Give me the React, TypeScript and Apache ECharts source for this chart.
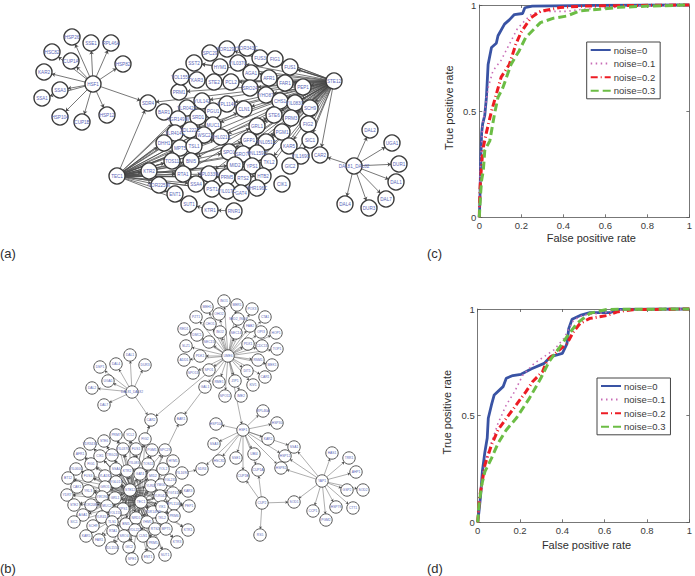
import React, { useEffect, useRef } from "react";
import * as echarts from "echarts";

type N = [string, number, number];

const nodesA: N[] = [
  ["HSP26", 72, 37], ["SSE1", 91, 43], ["RPL46A", 111, 43], ["HSP82", 123, 64], ["HSC82", 52, 52], ["CUP1A", 71, 61],
  ["KAR2", 44, 72], ["HSF1", 93, 84], ["SSA3", 60, 90], ["SSA1", 42, 98], ["HSP104", 60, 117], ["CUP1B", 82, 122],
  ["HSP12", 107, 115], ["SDR4", 148, 103], ["TEC1", 117, 176], ["KTR2", 149, 171], ["BAR1", 164, 112], ["PRM1", 179, 92],
  ["YOL155C", 181, 77], ["KAR3", 197, 80], ["SST2", 194, 63], ["SPC29", 210, 53], ["HYM1", 220, 67], ["STE2", 214, 82],
  ["YOR129C", 227, 49], ["YUL142", 202, 101], ["YLR042C", 187, 108], ["PGU1", 213, 111], ["YPL114C", 227, 104],
  ["YGR149W", 178, 119], ["SRD1", 198, 117], ["MUC1", 213, 125], ["YLR414C", 175, 133], ["YDL222C", 190, 130],
  ["WSC2", 204, 135], ["YHL021C", 221, 137], ["DHH1", 164, 143], ["MPT5", 180, 148], ["TSL1", 194, 146], ["SPO1", 229, 152],
  ["TOS11", 172, 161], ["BNI5", 191, 161], ["RTA1", 183, 174], ["YPL033W", 209, 174], ["PRM5", 227, 177],
  ["YOR225W", 159, 185], ["SSA4", 196, 184], ["PST1", 212, 189], ["YIL017C", 227, 191], ["ENT1", 175, 194], ["SUT1", 189, 204],
  ["KTR1", 210, 210], ["RNR1", 234, 211], ["YOR343C", 247, 48], ["FUS3", 260, 58], ["FIG1", 275, 59], ["FUS1", 290, 67],
  ["YIL037C", 238, 63], ["AGA1", 251, 73], ["AFR1", 269, 78], ["FAR1", 285, 83], ["PEP1", 303, 87], ["STE12", 334, 81],
  ["PCL2", 231, 82], ["SRO24", 250, 88], ["YHO87", 266, 95], ["CHS1", 280, 101], ["YIL083C", 295, 103], ["SCH9", 310, 108],
  ["CLN1", 244, 109], ["STE6", 274, 115], ["PRM3", 291, 118], ["FIG2", 308, 124], ["GRL1", 257, 126], ["PGM1", 282, 132],
  ["GFP1", 249, 140], ["YNL051C", 266, 142], ["KAR5", 289, 146], ["SIC1", 310, 140], ["CAR2", 320, 155], ["YIL169C", 301, 156],
  ["SRO77", 243, 154], ["YNL159C", 257, 153], ["TKL2", 269, 162], ["MID2", 235, 165], ["YPS1", 252, 166], ["GIC2", 290, 166],
  ["HTB2", 263, 176], ["RTS2", 243, 178], ["CIK1", 282, 184], ["GAT4", 241, 193], ["YHR196C", 257, 188],
  ["DAL81_DAL82", 354, 166], ["DAL2", 370, 130], ["UGA1", 392, 143], ["DUR1", 399, 164], ["DAL1", 396, 182],
  ["DAL7", 386, 199], ["DUR3", 369, 208], ["DAL4", 345, 204],
];
const hsfLeavesA = ["HSP26", "SSE1", "RPL46A", "HSP82", "HSC82", "CUP1A", "KAR2", "SSA3", "SSA1", "HSP104", "CUP1B", "HSP12", "SDR4"];
const dalLeavesA = ["DAL2", "UGA1", "DUR1", "DAL1", "DAL7", "DUR3", "DAL4", "CAR2"];
const tecTargetsA = [
  "SDR4", "KTR2", "YLR042C", "YGR149W", "SRD1", "MUC1", "YLR414C", "YDL222C", "WSC2", "YHL021C", "DHH1", "MPT5", "TSL1", "SPO1",
  "TOS11", "BNI5", "RTA1", "YPL033W", "PRM5", "YOR225W", "SSA4", "PST1", "YIL017C", "ENT1", "SUT1", "GFP1", "SRO77", "MID2",
  "YPS1", "RTS2", "HTB2", "GRL1", "YNL159C", "TKL2", "PGM1", "STE6", "CLN1", "YPL114C",
];
const steTargetsA = [
  "SDR4", "PRM1", "SST2", "KAR3", "STE2", "YOR129C", "YOR343C", "FUS3", "FIG1", "FUS1", "YIL037C", "AGA1", "AFR1", "FAR1", "PEP1",
  "PCL2", "SRO24", "YHO87", "CHS1", "YIL083C", "SCH9", "CLN1", "STE6", "PRM3", "FIG2", "GRL1", "PGM1", "GFP1", "YNL051C", "KAR5",
  "SIC1", "CAR2", "YIL169C", "SRO77", "YNL159C", "TKL2", "MID2", "YPS1", "GIC2", "HTB2", "RTS2", "SPO1", "MUC1", "YHL021C",
  "WSC2", "PGU1", "YPL114C", "YUL142", "SRD1", "TSL1", "BNI5", "YPL033W", "PRM5", "YDL222C", "RTA1",
];
const extraEdgesA: [string, string][] = [["HYM1", "SST2"], ["KTR1", "SUT1"], ["RNR1", "KTR1"], ["ENT1", "SUT1"], ["KTR2", "RTA1"]];

const nodesB: N[] = [
  ["PRM7", 116, 435], ["YCL2", 130, 435], ["YDR343C", 90, 444], ["STE6", 104, 441], ["FIG2", 145, 439], ["YIL037C", 123, 449],
  ["FUS1", 136, 449], ["PGM1", 152, 450], ["SPC29", 165, 450], ["AFR1", 80, 454], ["CIK1", 100, 456], ["TRG24", 112, 455],
  ["YIL083", 134, 463], ["TOS11", 148, 464], ["HYM1", 173, 461], ["FIG1", 91, 464], ["YIL060C", 76, 469], ["SSA4", 116, 469],
  ["KTR2", 127, 471], ["GAT4", 140, 474], ["MID2", 153, 476], ["YOL2", 163, 469], ["BT12", 68, 478], ["FUS3", 88, 476],
  ["YLA182", 105, 476], ["YGL017", 116, 482], ["YLR01", 151, 486], ["YMG1", 161, 485], ["YGL231", 170, 480], ["YIL169C", 182, 473],
  ["SDR4", 202, 469], ["STE12", 130, 490], ["GRO1", 105, 487], ["YKL3", 88, 491], ["CAK1", 77, 487], ["YDR7", 67, 495],
  ["KAR3", 188, 491], ["YGT41", 173, 493], ["TEC1", 141, 502], ["YLR042", 160, 496], ["YPL114C", 174, 504], ["PEP1", 189, 506],
  ["STE2", 74, 505], ["YOR208C", 91, 505], ["YIR190", 102, 497], ["GRL1", 115, 498], ["MUC2", 107, 506], ["AGA1", 83, 515],
  ["YLR414", 102, 517], ["YPS1", 123, 509], ["YDR149W", 153, 512], ["YOL155", 115, 513], ["YIK1", 162, 507], ["PRM6", 174, 516],
  ["TKL2", 162, 518], ["SIC1", 74, 522], ["TLS1", 112, 522], ["BNI5", 126, 524], ["NRD1", 136, 518], ["SCH9", 93, 526],
  ["YHM1", 147, 522], ["RTS2", 155, 529], ["MPT5", 166, 529], ["RTA1", 113, 531], ["YDL222", 135, 530], ["KTR1", 188, 530],
  ["KAR5", 86, 536], ["FAR1", 99, 540], ["SRO4", 124, 536], ["CLN1", 143, 536], ["KTR3", 177, 542], ["PRM5", 153, 543],
  ["YDL155C", 112, 548], ["GIC2", 129, 547], ["SUT1", 165, 555], ["SPE1", 132, 559], ["ENT1", 148, 557], ["CAR2", 151, 420],
  ["BAR1", 181, 419], ["DAL81_DAL82", 132, 392], ["DAL1", 130, 355], ["DAL4", 116, 364], ["DUR3", 145, 365], ["DSP1", 100, 367],
  ["UGA1", 108, 381], ["DAL2", 92, 388], ["DAL7", 104, 405], ["INO1", 224, 301], ["MEH1", 207, 307], ["MER1", 237, 305],
  ["POX3", 252, 309], ["CTA1", 265, 317], ["OHO2", 219, 314], ["SED2_INO4", 238, 319], ["CHO1", 210, 324], ["FAB2", 250, 326],
  ["OPI3", 261, 332], ["HOP1", 276, 333], ["INO2", 220, 332], ["SEC14", 236, 333], ["PZT1", 196, 317], ["RED1", 184, 329],
  ["DMC1", 197, 335], ["SEC15", 209, 342], ["SLZ1", 186, 346], ["PDX1", 248, 344], ["CDC13", 262, 346], ["TOP1", 277, 349],
  ["ADD1", 184, 360], ["PDK1", 200, 356], ["UME6", 228, 356], ["RSM1", 258, 360], ["MEK1", 272, 365], ["SPO1", 209, 370],
  ["DIT1", 247, 371], ["CAR1", 265, 377], ["RME1", 219, 382], ["ZIP1", 235, 381], ["KIV1", 253, 385], ["SPO13", 193, 373],
  ["GAL1", 205, 387], ["SPO11", 225, 396], ["IME2", 241, 396], ["HSF1", 243, 430], ["RPL46A", 263, 411], ["HSP30", 277, 423],
  ["HSP104", 216, 424], ["SSA3", 214, 444], ["KAR2", 268, 439], ["SSE1", 236, 458], ["HSC82", 219, 461], ["UBI4", 254, 454],
  ["CUP1A", 258, 470], ["CUP1B", 243, 476], ["SSA1", 294, 447], ["HSP12", 285, 456], ["HSP82", 281, 468], ["YAP1", 322, 481],
  ["HAS1", 332, 453], ["TRR1", 349, 458], ["AHP1", 356, 472], ["GSP2", 347, 490], ["SOD2", 363, 490], ["CTT1", 353, 508],
  ["HSP78", 336, 507], ["PGM2", 326, 520], ["CCP1", 313, 511], ["SOD1", 294, 502], ["CUP2", 262, 503], ["RS5", 260, 535],
];
const umeLeavesB = [
  "INO1", "MEH1", "MER1", "POX3", "CTA1", "OHO2", "SED2_INO4", "CHO1", "FAB2", "OPI3", "HOP1", "INO2", "SEC14", "PZT1", "RED1", "DMC1",
  "SEC15", "SLZ1", "PDX1", "CDC13", "TOP1", "ADD1", "PDK1", "RSM1", "MEK1", "SPO1", "DIT1", "CAR1", "RME1", "ZIP1", "KIV1", "SPO13",
  "GAL1", "SPO11", "IME2", "HSF1", "CAR2",
];
const hsfLeavesB = ["RPL46A", "HSP30", "HSP104", "SSA3", "KAR2", "SSE1", "HSC82", "UBI4", "CUP1A", "CUP1B", "SSA1", "HSP12", "HSP82", "SDR4"];
const yapLeavesB = ["HAS1", "TRR1", "AHP1", "GSP2", "SOD2", "CTT1", "HSP78", "PGM2", "CCP1", "SOD1", "SSA1", "HSP12", "HSP82"];
const cupLeavesB = ["CUP1A", "CUP1B", "SOD1", "RS5"];
const dalLeavesB = ["DAL1", "DAL4", "DUR3", "DSP1", "UGA1", "DAL2", "DAL7", "CAR2"];
const hubSkipB = new Set(["STE12", "TEC1", "SDR4", "YIL169C", "CAR2", "BAR1"]);
const hubCountB = 77;
const extraEdgesB: [string, string][] = [
  ["GAL1", "BAR1"], ["TEC1", "BAR1"], ["STE12", "CAR2"], ["FIG2", "CAR2"], ["STE12", "TEC1"], ["YIL169C", "SDR4"],
];

const fpr0c = [0, 0.003, 0.006, 0.011, 0.016, 0.026, 0.034, 0.042, 0.058, 0.081, 0.089, 0.12, 0.143, 0.167, 0.206, 0.217, 0.252, 0.55, 1];
const tpr0c = [0, 0.08, 0.24, 0.395, 0.44, 0.48, 0.566, 0.72, 0.8, 0.82, 0.855, 0.91, 0.93, 0.955, 0.96, 0.987, 0.995, 0.998, 1];
const fpr1c = [0, 0.005, 0.016, 0.026, 0.042, 0.065, 0.104, 0.143, 0.182, 0.221, 0.252, 0.307, 0.416, 0.494, 0.572, 0.727, 1];
const tpr1c = [0, 0.24, 0.44, 0.5, 0.61, 0.69, 0.74, 0.815, 0.89, 0.93, 0.96, 0.97, 0.97, 0.98, 0.984, 0.995, 1];
const fpr2c = [0, 0.003, 0.011, 0.019, 0.034, 0.058, 0.081, 0.104, 0.143, 0.174, 0.198, 0.245, 0.291, 0.385, 0.494, 0.65, 1];
const tpr2c = [0, 0.13, 0.25, 0.33, 0.4, 0.5, 0.58, 0.66, 0.72, 0.815, 0.87, 0.94, 0.97, 0.988, 0.995, 0.997, 1];
const fpr3c = [0, 0.006, 0.011, 0.019, 0.026, 0.05, 0.073, 0.089, 0.112, 0.151, 0.19, 0.221, 0.26, 0.291, 0.354, 0.416, 0.478, 0.572, 0.665, 0.805, 1];
const tpr3c = [0, 0.11, 0.175, 0.22, 0.315, 0.36, 0.49, 0.565, 0.61, 0.72, 0.785, 0.847, 0.886, 0.917, 0.938, 0.948, 0.972, 0.98, 0.989, 0.995, 1];

const fpr0d = [0, 0.006, 0.014, 0.022, 0.034, 0.045, 0.05, 0.065, 0.078, 0.12, 0.135, 0.166, 0.205, 0.252, 0.314, 0.345, 0.4, 0.422, 0.43, 0.446, 0.484, 0.53, 0.624, 0.67, 1];
const tpr0d = [0, 0.05, 0.128, 0.238, 0.33, 0.395, 0.488, 0.55, 0.597, 0.636, 0.675, 0.688, 0.694, 0.719, 0.745, 0.777, 0.792, 0.838, 0.908, 0.952, 0.97, 0.983, 0.983, 0.998, 1];
const fpr1d = [0, 0.011, 0.026, 0.05, 0.096, 0.135, 0.174, 0.213, 0.267, 0.314, 0.36, 0.407, 0.453, 0.5, 0.578, 0.67, 1];
const tpr1d = [0, 0.112, 0.237, 0.33, 0.464, 0.55, 0.612, 0.69, 0.745, 0.777, 0.808, 0.862, 0.948, 0.972, 0.98, 0.995, 1];
const fpr2d = [0, 0.008, 0.019, 0.034, 0.065, 0.096, 0.135, 0.182, 0.228, 0.259, 0.306, 0.329, 0.376, 0.422, 0.453, 0.484, 0.53, 0.609, 0.663, 0.733, 1];
const tpr2d = [0, 0.112, 0.175, 0.269, 0.3625, 0.433, 0.4875, 0.55, 0.6125, 0.659, 0.706, 0.761, 0.8, 0.838, 0.894, 0.933, 0.956, 0.969, 0.9875, 0.997, 1];
const fpr3d = [0, 0.006, 0.019, 0.034, 0.065, 0.096, 0.135, 0.182, 0.244, 0.298, 0.337, 0.384, 0.422, 0.469, 0.531, 0.609, 1];
const tpr3d = [0, 0.08, 0.175, 0.2375, 0.3, 0.37, 0.433, 0.4875, 0.581, 0.675, 0.753, 0.816, 0.87, 0.933, 0.98, 0.998, 1];

const noiseNames = ["noise=0", "noise=0.1", "noise=0.2", "noise=0.3"];
const xTickLabels = ["0", "0.2", "0.4", "0.6", "0.8", "1"];
const yTickLabels = ["0", "0.5", "1"];
const panelLabels = ["(a)", "(b)", "(c)", "(d)"];

const FONT = "'Liberation Sans', Arial, sans-serif";
const zip = (a: number[], b: number[]) => a.map((v, i) => [v, b[i]]);

function graphSeries(nodes: N[], edges: [string, string][], r: number, fs: number, ring: number, lw: number, arrow: number) {
  return {
    type: "graph",
    coordinateSystem: "cartesian2d",
    xAxisIndex: 0,
    yAxisIndex: 0,
    layout: "none",
    silent: true,
    symbol: "circle",
    symbolSize: r * 2,
    edgeSymbol: ["none", "arrow"],
    edgeSymbolSize: arrow,
    itemStyle: { color: "#ffffff", borderColor: "#3a3a3a", borderWidth: ring },
    lineStyle: { color: "#4a4a4a", width: lw, opacity: 1, curveness: 0 },
    label: { show: true, position: "inside", fontFamily: FONT, fontSize: fs, color: "#5a68b8", formatter: "{b}" },
    data: nodes.map(([name, x, y]) => ({ name, value: [x, y] })),
    links: edges.map(([source, target]) => ({ source, target })),
  };
}

function rocAxes(gridIndex: number, shiftX: number, shiftY: number, xGap: number) {
  const line = { lineStyle: { color: "#777777", width: 1 } };
  const tick = { show: true, inside: true, length: 3, lineStyle: { color: "#555555", width: 0.8 } };
  const labelStyle = { color: "#3a3a3a", fontFamily: FONT, fontSize: 9.5 };
  const nameStyle = { color: "#2e2e2e", fontFamily: FONT, fontSize: 11 };
  const base = { type: "value", gridIndex, min: 0, max: 1, splitLine: { show: false }, axisLine: { show: true, onZero: false, ...line }, axisTick: tick };
  const xs = [
    { ...base, position: "bottom", interval: 0.2, name: "False positive rate", nameLocation: "middle", nameGap: xGap,
      nameTextStyle: { ...nameStyle, padding: [0, 0, 0, shiftX] },
      axisLabel: { ...labelStyle, margin: 3, formatter: (v: number) => xTickLabels[Math.round(v * 5)] } },
    { ...base, position: "top", interval: 0.2, axisLabel: { show: false } },
  ];
  const ys = [
    { ...base, position: "left", interval: 0.5, name: "True positive rate", nameLocation: "middle", nameGap: 25,
      nameTextStyle: { ...nameStyle, padding: [0, 0, 0, shiftY] },
      axisLabel: { ...labelStyle, margin: 3, formatter: (v: number) => yTickLabels[Math.round(v * 2)] } },
    { ...base, position: "right", interval: 0.5, axisLabel: { show: false } },
  ];
  return { xs, ys };
}

function rocSeries(curves: number[][][], axis: number) {
  const styles = [
    { color: "#3953a4", width: 2.8, type: "solid" },
    { color: "#c86cb6", width: 1.6, type: [1.5, 3.5] },
    { color: "#ed1c24", width: 3, type: [7, 3, 1, 3] },
    { color: "#6cbd45", width: 3, type: [8, 4] },
  ];
  return curves.map((data, i) => ({
    name: noiseNames[i],
    type: "line",
    xAxisIndex: axis,
    yAxisIndex: axis,
    data,
    symbol: "none",
    showSymbol: false,
    silent: true,
    clip: false,
    lineStyle: styles[i],
    itemStyle: { color: styles[i].color },
  }));
}

function rocLegend(left: number, top: number) {
  return {
    data: noiseNames,
    orient: "vertical",
    left,
    top,
    selectedMode: false,
    backgroundColor: "#ffffff",
    borderColor: "#444444",
    borderWidth: 1,
    padding: [3, 5, 3, 3],
    itemWidth: 20,
    itemHeight: 9,
    itemGap: 3.6,
    itemStyle: { color: "transparent", opacity: 0, borderWidth: 0 },
    textStyle: { color: "#3a3a3a", fontFamily: FONT, fontSize: 9.5, padding: [0, 0, 0, -2] },
  };
}

export default function App() {
  const ref = useRef<HTMLDivElement>(null);
  useEffect(() => {
    document.body.style.margin = "0";
    const chart = echarts.init(ref.current!, undefined, { renderer: "svg" });

    const edgesA: [string, string][] = [
      ...hsfLeavesA.map((t) => ["HSF1", t] as [string, string]),
      ...dalLeavesA.map((t) => ["DAL81_DAL82", t] as [string, string]),
      ...tecTargetsA.map((t) => ["TEC1", t] as [string, string]),
      ...steTargetsA.map((t) => ["STE12", t] as [string, string]),
      ...extraEdgesA,
    ];
    const hubTargetsB = nodesB.slice(0, hubCountB).map((n) => n[0]).filter((n) => !hubSkipB.has(n));
    const edgesB: [string, string][] = [
      ...umeLeavesB.map((t) => ["UME6", t] as [string, string]),
      ...hsfLeavesB.map((t) => ["HSF1", t] as [string, string]),
      ...yapLeavesB.map((t) => ["YAP1", t] as [string, string]),
      ...cupLeavesB.map((t) => ["CUP2", t] as [string, string]),
      ...dalLeavesB.map((t) => ["DAL81_DAL82", t] as [string, string]),
      ...hubTargetsB.map((t) => ["STE12", t] as [string, string]),
      ...hubTargetsB.map((t) => ["TEC1", t] as [string, string]),
      ...extraEdgesB,
    ];

    const c = rocAxes(1, 14, 7, 15);
    const d = rocAxes(2, 6, 7, 17);
    const stage = { type: "value", gridIndex: 0, show: false };

    chart.setOption({
      animation: false,
      backgroundColor: "#ffffff",
      grid: [
        { left: 0, top: 0, width: 695, height: 576, show: false },
        { left: 479.3, top: 4, width: 214, height: 213.3 },
        { left: 477.7, top: 309, width: 214.6, height: 213.3 },
      ],
      xAxis: [{ ...stage, min: 0, max: 695 }, c.xs[0], d.xs[0], c.xs[1], d.xs[1]],
      yAxis: [{ ...stage, min: 0, max: 576, inverse: true }, c.ys[0], d.ys[0], c.ys[1], d.ys[1]],
      legend: [rocLegend(586.7, 42), rocLegend(597, 378)],
      series: [
        graphSeries(nodesA, edgesA, 8, 4.6, 1.4, 0.75, 3.5),
        graphSeries(nodesB, edgesB, 6.2, 3.3, 0.85, 0.45, 2.5),
        ...rocSeries([zip(fpr0c, tpr0c), zip(fpr1c, tpr1c), zip(fpr2c, tpr2c), zip(fpr3c, tpr3c)], 1),
        ...rocSeries([zip(fpr0d, tpr0d), zip(fpr1d, tpr1d), zip(fpr2d, tpr2d), zip(fpr3d, tpr3d)], 2),
      ],
      graphic: [
        [0, 253], [0, 568], [427, 253], [427, 568],
      ].map(([x, y], i) => ({
        type: "text",
        x,
        y,
        silent: true,
        style: { text: panelLabels[i], fontFamily: FONT, fontSize: 13, fill: "#2e2e2e", textVerticalAlign: "middle" },
      })),
    });
    return () => chart.dispose();
  }, []);
  return <div ref={ref} style={{ width: 695, height: 576 }} />;
}
